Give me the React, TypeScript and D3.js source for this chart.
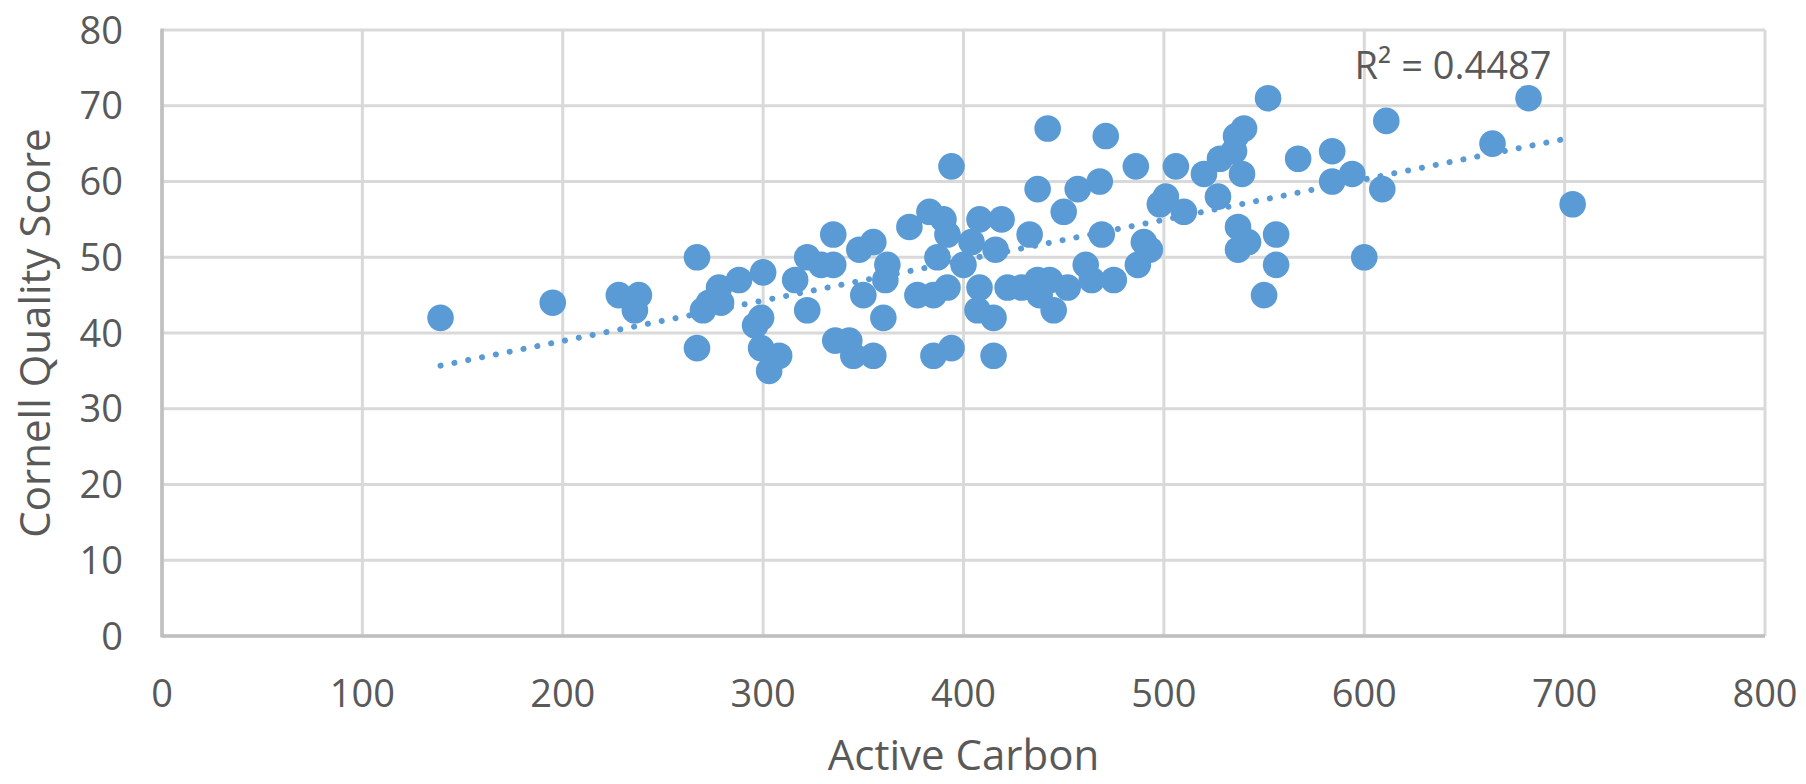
import React from "react";
import * as d3 from "d3";

const activeCarbon = [
  139, 195, 228, 238, 236, 267, 267, 270, 273, 278, 279, 288, 300, 299, 296, 299, 308, 303,
  316, 322, 335, 329, 335, 322, 336, 343, 345, 355, 348, 355, 362, 361, 350, 360,
  373, 383, 390, 392, 394, 408, 419, 404, 416, 433, 387, 400, 377, 385, 392, 408, 407, 415,
  422, 429, 437, 443, 438, 452, 445, 461, 464, 475, 385, 394, 415, 437, 457, 450, 468, 469,
  442, 471,
  486, 506, 552, 540, 536, 535, 528, 520, 539, 567, 584, 584, 594, 609, 611, 600, 501, 498,
  510, 527, 537, 542, 537, 556, 556, 550, 490, 493, 487, 682, 664, 704,
];
const qualityScore = [
  42, 44, 45, 45, 43, 50, 38, 43, 44, 46, 44, 47, 48, 42, 41, 38, 37, 35,
  47, 50, 53, 49, 49, 43, 39, 39, 37, 37, 51, 52, 49, 47, 45, 42,
  54, 56, 55, 53, 62, 55, 55, 52, 51, 53, 50, 49, 45, 45, 46, 46, 43, 42,
  46, 46, 47, 47, 45, 46, 43, 49, 47, 47, 37, 38, 37, 59, 59, 56, 60, 53,
  67, 66,
  62, 62, 71, 67, 66, 64, 63, 61, 61, 63, 64, 60, 61, 59, 68, 50, 58, 57,
  56, 58, 54, 52, 51, 53, 49, 45, 52, 51, 49, 71, 65, 57,
];
const xTicks = [0, 100, 200, 300, 400, 500, 600, 700, 800];
const yTicks = [0, 10, 20, 30, 40, 50, 60, 70, 80];
const xTitle = "Active Carbon";
const yTitle = "Cornell Quality Score";
const rSquaredLabel = "R² = 0.4487";

const W = 1806;
const H = 784;
const FONT = "'Open Sans', 'Noto Sans', sans-serif";
const TEXT = "#595959";
const GRID = "#d9d9d9";
const AXIS = "#bfbfbf";
const BLUE = "#5b9bd5";

export default function App() {
  const x = d3.scaleLinear().domain([0, 800]).range([162, 1765]);
  const y = d3.scaleLinear().domain([0, 80]).range([636, 30]);

  const pts = activeCarbon.map((a, i) => ({ a, q: qualityScore[i] }));
  const mx = d3.mean(activeCarbon) as number;
  const my = d3.mean(qualityScore) as number;
  let sxy = 0;
  let sxx = 0;
  pts.forEach((p) => {
    sxy += (p.a - mx) * (p.q - my);
    sxx += (p.a - mx) * (p.a - mx);
  });
  const slope = sxy / sxx;
  const intercept = my - slope * mx;
  const [x0, x1] = d3.extent(activeCarbon) as [number, number];
  const trend = d3
    .line<number>()
    .x((v) => x(v))
    .y((v) => y(intercept + slope * v))([x0, x1]) as string;

  return (
    <svg
      width={W}
      height={H}
      viewBox={`0 0 ${W} ${H}`}
      style={{ position: "absolute", left: 0, top: 0, display: "block", background: "#fff" }}
    >
      <rect x={0} y={0} width={W} height={H} fill="#fff" />
      {yTicks.map((t) => (
        <line key={"gy" + t} x1={x(0)} x2={x(800)} y1={y(t)} y2={y(t)} stroke={GRID} strokeWidth={3} />
      ))}
      {xTicks.map((t) => (
        <line key={"gx" + t} x1={x(t)} x2={x(t)} y1={y(0)} y2={y(80)} stroke={GRID} strokeWidth={3} />
      ))}
      <line x1={x(0)} x2={x(800)} y1={y(0)} y2={y(0)} stroke={AXIS} strokeWidth={3.5} />
      <line x1={x(0)} x2={x(0)} y1={y(0) + 1.5} y2={y(80) - 1.5} stroke={AXIS} strokeWidth={3.5} />

      {pts.map((p, i) => (
        <circle key={i} cx={x(p.a)} cy={y(p.q)} r={13.3} fill={BLUE} />
      ))}

      <path
        d={trend}
        fill="none"
        stroke={BLUE}
        strokeWidth={6}
        strokeLinecap="round"
        strokeDasharray="0.1 14"
      />

      {yTicks.map((t) => (
        <text
          key={"ly" + t}
          x={123}
          y={y(t) + 13.5}
          textAnchor="end"
          fontFamily={FONT}
          fontSize={38}
          fill={TEXT}
        >
          {t}
        </text>
      ))}
      {xTicks.map((t) => (
        <text
          key={"lx" + t}
          x={x(t)}
          y={707}
          textAnchor="middle"
          fontFamily={FONT}
          fontSize={38}
          fill={TEXT}
        >
          {t}
        </text>
      ))}

      <text x={1453} y={79} textAnchor="middle" fontFamily={FONT} fontSize={38} fill={TEXT}>
        {rSquaredLabel}
      </text>

      <text
        x={(x(0) + x(800)) / 2}
        y={770}
        textAnchor="middle"
        fontFamily={FONT}
        fontSize={42}
        fill={TEXT}
      >
        {xTitle}
      </text>
      <text
        transform={`translate(50, ${(y(0) + y(80)) / 2}) rotate(-90)`}
        textAnchor="middle"
        fontFamily={FONT}
        fontSize={42}
        fill={TEXT}
      >
        {yTitle}
      </text>
    </svg>
  );
}
